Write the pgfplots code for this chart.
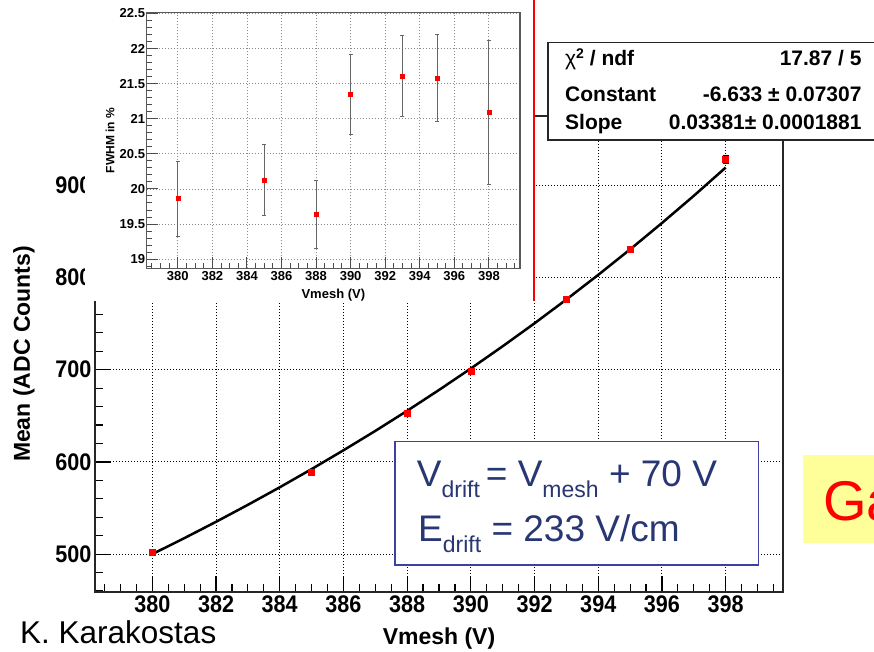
\documentclass[border=0pt]{standalone}
\usepackage{fontspec}
\setmainfont{Liberation Sans}
\newfontfamily\rootnarrow{Liberation Sans}[FakeStretch=0.9]
\usepackage{pgfplots}
\pgfplotsset{compat=1.18}
\definecolor{boxblue}{RGB}{64,64,160}
\definecolor{textnavy}{RGB}{40,55,115}
\definecolor{notey}{RGB}{255,255,153}
\newcommand{\fs}[1]{\fontsize{#1}{#1}\selectfont}
\newcommand{\sub}[1]{\raisebox{-11pt}{\fs{23}#1}}

\begin{document}
\begin{tikzpicture}[x=1pt,y=1pt]
\useasboundingbox (0,0) rectangle (874,652);
\fill[white] (0,0) rectangle (874,652);

% main plot: gain curve
\begin{axis}[at={(95pt,60pt)},anchor=south west,scale only axis,
 width=688pt,height=476pt,
 xmin=378.2,xmax=399.8,ymin=459,ymax=975,
 xtick={380,382,...,398},ytick={500,600,...,900},
 minor xtick={378.5,379,...,399.5},minor ytick={460,480,...,960},
 tick pos=left,tick align=inside,
 major tick length=16pt,minor tick length=8pt,
 tick style={black,line width=1.2pt},
 axis line style={black!85,line width=1.6pt},
 grid=major,
 major grid style={black,line width=1pt,dash pattern=on 1pt off 2pt},
 /pgf/number format/assume math mode=true,
 tick label style={font=\rootnarrow\bfseries\fs{24}},
 xlabel={Vmesh (V)},ylabel={Mean (ADC Counts)},
 label style={font=\bfseries\fs{23}},
 xlabel style={at={(axis description cs:0.5,-0.1113)},anchor=base},
 ylabel style={at={(axis description cs:-0.1032,0.5)},anchor=center}]
% expo fit, exp(-6.633+0.03381 x)
\addplot[black,line width=2.5pt,no marks] coordinates {
(380,500.1)(381,517.3)(382,535.1)(383,553.5)(384,572.5)(385,592.2)
(386,612.6)(387,633.6)(388,655.4)(389,678.0)(390,701.3)(391,725.4)
(392,750.3)(393,776.1)(394,802.8)(395,830.4)(396,859.0)(397,888.5)
(398,919.1)};
\addplot[only marks,mark=square*,mark size=3pt,red,
 error bars/.cd,y dir=both,y explicit,
 error bar style={black,line width=1.2pt}] coordinates {
(380,502.5) +- (0,2)
(385,588.5) +- (0,2)
(388,653.3) +- (0,2)
(390,698.5) +- (0,2)
(393,776.5) +- (0,2.5)
(395,830.8) +- (0,3)
(398,928.0) +- (0,4.5)};
\end{axis}

% pasted inset background and slide line
\fill[white] (85,351) rectangle (533.5,652);
\draw[red,line width=1.2pt] (534,351) -- (534,652);

% fit statistics box
\filldraw[fill=white,draw=black!85,line width=1.5pt] (548,512) rectangle (890,609.3);
\begin{scope}[every node/.style={inner sep=0,font=\bfseries\fs{21}}]
\node[anchor=base west] at (565,586) {{\mdseries χ}\raisebox{7pt}{\fs{14}2} / ndf};
\node[anchor=base east] at (861.7,586) {17.87 / 5};
\node[anchor=base west] at (565,550.3) {Constant};
\node[anchor=base east] at (861.7,550.3) {-6.633 ± 0.07307};
\node[anchor=base west] at (565,522) {Slope};
\node[anchor=base east] at (861.7,522) {0.03381± 0.0001881};
\end{scope}

% drift field note
\filldraw[fill=white,draw=boxblue,line width=1.5pt] (395,87) rectangle (758.3,210.3);
\node[anchor=base west,text=textnavy,font=\fs{37},inner sep=0] at (416.7,165.3)
 {V\sub{drift}\hspace{6pt}= V\sub{mesh} + 70 V};
\node[anchor=base west,text=textnavy,font=\fs{37},inner sep=0] at (418,110.3)
 {E\sub{drift} = 233 V/cm};

\fill[notey] (802.7,109.3) rectangle (890,197);
\node[anchor=base west,text=red,font=\fs{56},inner sep=0] at (823,131.3) {Ga};

\node[anchor=base west,font=\fs{31.5},inner sep=0] at (20,8) {K. Karakostas};

% inset: energy resolution
\begin{axis}[at={(146.7pt,383.7pt)},anchor=south west,scale only axis,
 width=373.3pt,height=255.6pt,
 xmin=378.2,xmax=399.8,ymin=18.87,ymax=22.51,
 xtick={380,382,...,398},ytick={19,19.5,20,20.5,21,21.5,22,22.5},
 minor xtick={378.5,379,...,399.5},minor ytick={18.9,19.0,...,22.5},
 tick pos=left,tick align=inside,
 major tick length=11pt,minor tick length=5.5pt,
 tick style={black!70,line width=1pt},
 axis line style={black!65,line width=1.3pt},
 grid=major,
 major grid style={black!45,line width=0.8pt,dash pattern=on 1pt off 2pt},
 /pgf/number format/assume math mode=true,
 tick label style={font=\bfseries\fs{13}},
 yticklabel style={inner sep=1.5pt},
 xlabel={Vmesh (V)},ylabel={FWHM in \%},
 xlabel style={font=\bfseries\fs{13},at={(axis description cs:0.5,-0.118)},anchor=base},
 ylabel style={font=\bfseries\fs{12},at={(axis description cs:-0.0983,0.5)},anchor=center}]
\addplot[only marks,mark=square*,mark size=2pt,red,
 error bars/.cd,y dir=both,y explicit,
 error bar style={black!60,line width=1.1pt}] coordinates {
(380,19.866) +- (0,0.535)
(385,20.131) +- (0,0.507)
(388,19.639) +- (0,0.483)
(390,21.352) +- (0,0.568)
(393,21.612) +- (0,0.575)
(395,21.584) +- (0,0.622)
(398,21.092) +- (0,1.020)};
\end{axis}
\end{tikzpicture}
\end{document}
